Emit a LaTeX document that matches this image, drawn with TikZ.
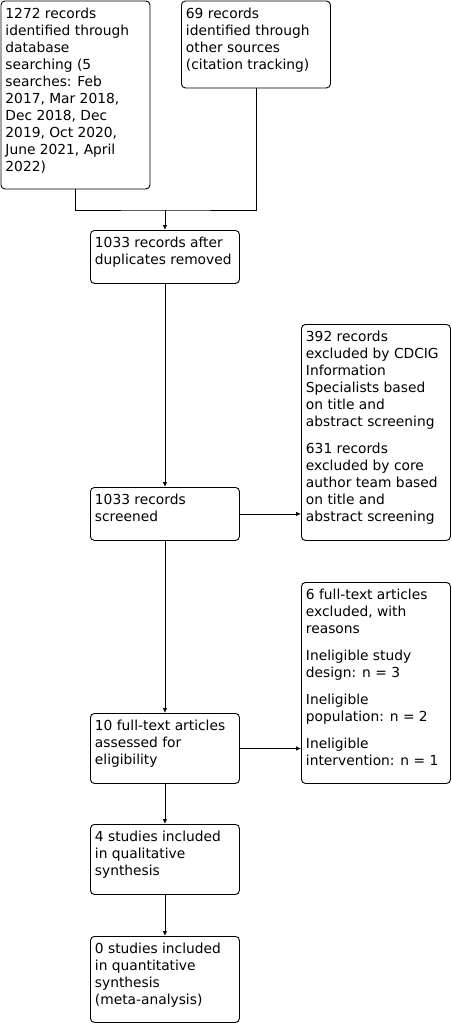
\documentclass[tikz,border=0pt]{standalone}
\usepackage{fontspec}
\setmainfont{DejaVu Sans}
\usepackage{tikz}
\usetikzlibrary{positioning,arrows.meta,calc}
\newcommand{\flowtext}[2]{\parbox[c][\dimexpr#1pt-14pt\relax][t]{140pt}{#2}}

\begin{document}
\begin{tikzpicture}[x=1pt,y=-1pt,
    every node/.style={font=\fontsize{13.8}{17}\selectfont},
    box/.style={draw, line width=0.9pt, rounded corners=4pt, anchor=north west,
                inner xsep=4.5pt, inner ysep=7pt},
    ar/.style={-{Latex[length=5pt,width=4.5pt]}, line width=0.9pt}]
  \useasboundingbox (0,0) rectangle (452,1023);
  \node[box] (ident) at (0.5,0.5)
    {\flowtext{188}{1272 records\\ identified through\\ database\\
     searching (5\\ searches: Feb\\ 2017, Mar 2018,\\ Dec 2018, Dec\\
     2019, Oct 2020,\\ June 2021, April\\ 2022)}};
  \node[box] (other) at (181,0.5)
    {\flowtext{87}{69 records\\ identified through\\ other sources\\
     (citation tracking)}};
  \node[box] (dupl) at (90,230)
    {\flowtext{53}{1033 records after\\ duplicates removed}};
  \node[box] (screen) at (90,487)
    {\flowtext{53}{1033 records\\ screened}};
  \node[box] (excl) at (301,324)
    {\flowtext{216}{392 records\\ excluded by CDCIG\\ Information\\
     Specialists based\\ on title and\\ abstract screening\\[10pt]
     631 records\\ excluded by core\\ author team based\\ on title and\\
     abstract screening}};
  \node[box] (full) at (90,713)
    {\flowtext{70}{10 full-text articles\\ assessed for\\ eligibility}};
  \node[box] (fullex) at (301,582)
    {\flowtext{201}{6 full-text articles\\ excluded, with\\ reasons\\[10pt]
     Ineligible study\\ design: n = 3\\[10pt]
     Ineligible\\ population: n = 2\\[10pt]
     Ineligible\\ intervention: n = 1}};
  \node[box] (qual) at (90,824)
    {\flowtext{70}{4 studies included\\ in qualitative\\ synthesis}};
  \node[box] (quant) at (90,936)
    {\flowtext{86}{0 studies included\\ in quantitative\\ synthesis\\
     (meta-analysis)}};
  % merge of the two sources
  \coordinate (merge) at ($(dupl.north)+(0,-20)$);
  \draw[line width=0.9pt] (ident.south) |- (merge) -| (other.south);
  \draw[ar] (merge) -- (dupl.north);
  \draw[ar] (dupl) -- (screen);
  \draw[ar] (screen.east) -- (screen.east -| excl.west);
  \draw[ar] (screen) -- (full);
  \draw[ar] (full.east) -- (full.east -| fullex.west);
  \draw[ar] (full) -- (qual);
  \draw[ar] (qual) -- (quant);
\end{tikzpicture}
\end{document}
